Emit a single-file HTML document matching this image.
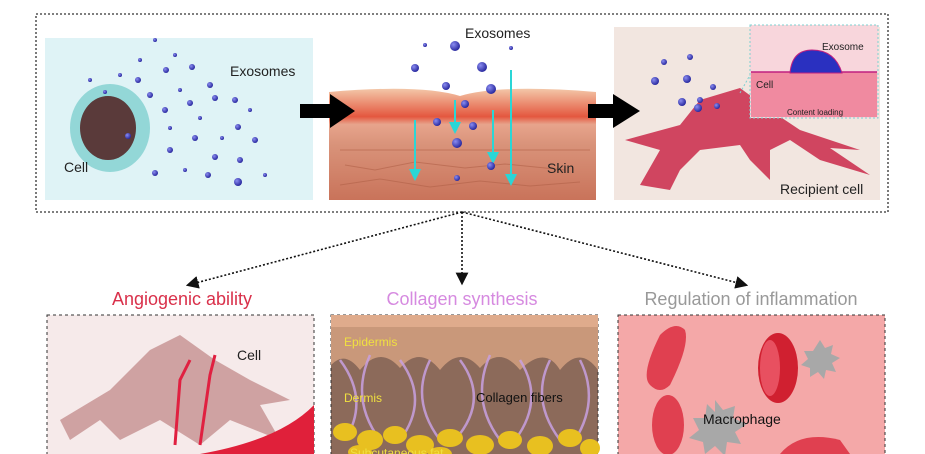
<!DOCTYPE html><html><head><meta charset="utf-8"><style>
html,body{margin:0;padding:0;background:#fff;width:925px;height:454px;overflow:hidden}
text{font-family:"Liberation Sans",sans-serif}
</style></head><body>
<svg width="925" height="454" viewBox="0 0 925 454" xmlns="http://www.w3.org/2000/svg">
<defs>
<radialGradient id="ex" cx="35%" cy="35%" r="65%"><stop offset="0" stop-color="#8a8cf0"/><stop offset="1" stop-color="#2a2aa0"/></radialGradient>
<linearGradient id="skin" x1="0" y1="0" x2="0" y2="1"><stop offset="0" stop-color="#f3c7a8"/><stop offset=".25" stop-color="#e4573f"/><stop offset=".32" stop-color="#e7a48c"/><stop offset=".5" stop-color="#d9937a"/><stop offset="1" stop-color="#c9735a"/></linearGradient>
<marker id="ah" markerWidth="8" markerHeight="8" refX="4" refY="4" orient="auto"><path d="M0,0 L8,4 L0,8 z" fill="#111"/></marker>
<marker id="ca" markerWidth="6" markerHeight="6" refX="3" refY="3" orient="auto"><path d="M0,0 L6,3 L0,6 z" fill="#2ad6d6"/></marker>
</defs>
<rect x="0" y="0" width="925" height="454" fill="#fff"/>
<rect x="36" y="14" width="852" height="198" fill="none" stroke="#333" stroke-width="1.3" stroke-dasharray="2,2"/>
<!-- panel 1 -->
<rect x="45" y="38" width="268" height="162" fill="#dff3f6"/>
<ellipse cx="110" cy="128" rx="40" ry="44" fill="#7fd0d0" opacity=".8"/>
<ellipse cx="108" cy="128" rx="28" ry="32" fill="#5a3a3a"/>
<g fill="url(#ex)">
<circle cx="155" cy="40" r="2"/><circle cx="120" cy="75" r="2"/><circle cx="138" cy="80" r="3"/><circle cx="166" cy="70" r="3"/><circle cx="192" cy="67" r="3"/><circle cx="210" cy="85" r="3"/><circle cx="215" cy="98" r="3"/><circle cx="190" cy="103" r="3"/><circle cx="165" cy="110" r="3"/><circle cx="128" cy="136" r="3"/><circle cx="155" cy="173" r="3"/><circle cx="170" cy="150" r="3"/><circle cx="195" cy="138" r="3"/><circle cx="208" cy="175" r="3"/><circle cx="238" cy="182" r="4"/><circle cx="240" cy="160" r="3"/><circle cx="255" cy="140" r="3"/><circle cx="238" cy="127" r="3"/><circle cx="215" cy="157" r="3"/><circle cx="235" cy="100" r="3"/><circle cx="250" cy="110" r="2"/><circle cx="180" cy="90" r="2"/><circle cx="200" cy="118" r="2"/><circle cx="150" cy="95" r="3"/><circle cx="90" cy="80" r="2"/><circle cx="105" cy="92" r="2"/><circle cx="170" cy="128" r="2"/><circle cx="222" cy="138" r="2"/><circle cx="140" cy="60" r="2"/><circle cx="175" cy="55" r="2"/><circle cx="265" cy="175" r="2"/><circle cx="185" cy="170" r="2"/></g>
<text x="64" y="172" font-size="14" fill="#222">Cell</text>
<text x="230" y="76" font-size="14" fill="#222">Exosomes</text>
<!-- panel 2 -->
<path d="M329,92 Q420,84 460,96 Q500,84 596,92 V200 H329z" fill="url(#skin)"/>
<g stroke="#b06048" stroke-width="1" fill="none" opacity=".6">
<path d="M340,150 h250 M345,165 l30,5 l40,-8 l50,6 l40,-4 l60,6 M340,185 l40,-6 l50,8 l50,-6 l50,5 l50,-4"/></g>
<g stroke="#2ad6d6" stroke-width="2" marker-end="url(#ca)">
<line x1="415" y1="120" x2="415" y2="175"/><line x1="455" y1="100" x2="455" y2="128"/><line x1="493" y1="110" x2="493" y2="158"/><line x1="511" y1="70" x2="511" y2="180"/></g>
<g fill="url(#ex)"><circle cx="425" cy="45" r="2"/><circle cx="455" cy="46" r="5"/><circle cx="511" cy="48" r="2"/><circle cx="415" cy="68" r="4"/><circle cx="482" cy="67" r="5"/><circle cx="446" cy="86" r="4"/><circle cx="491" cy="89" r="5"/><circle cx="465" cy="104" r="4"/><circle cx="437" cy="122" r="4"/><circle cx="473" cy="126" r="4"/><circle cx="457" cy="143" r="5"/><circle cx="491" cy="166" r="4"/><circle cx="457" cy="178" r="3"/></g>
<text x="465" y="38" font-size="14" fill="#222">Exosomes</text>
<text x="547" y="173" font-size="14" fill="#222">Skin</text>
<!-- panel 3 -->
<rect x="614" y="27" width="266" height="173" fill="#f2e6e0"/>
<path d="M640,185 L660,150 L625,140 L680,125 L700,100 L740,88 L770,110 L800,130 L860,150 L830,148 L870,175 L820,160 L790,140 L770,150 L770,180 L750,160 L740,145 L700,150 L680,170 L670,190z" fill="#d04560"/>
<g fill="url(#ex)"><circle cx="664" cy="62" r="3"/><circle cx="690" cy="57" r="3"/><circle cx="655" cy="81" r="4"/><circle cx="687" cy="79" r="4"/><circle cx="713" cy="87" r="3"/><circle cx="682" cy="102" r="4"/><circle cx="700" cy="100" r="3"/><circle cx="717" cy="106" r="3"/><circle cx="698" cy="108" r="4"/></g>
<rect x="750" y="25" width="128" height="93" fill="#f8d6dc" stroke="#7fd0d0" stroke-dasharray="2,2"/>
<rect x="751" y="72" width="126" height="45" fill="#f08aa0"/>
<line x1="751" y1="72" x2="877" y2="72" stroke="#c02080" stroke-width="1.5"/>
<path d="M790,73 Q792,50 812,50 Q835,50 842,73z" fill="#2a30c0" stroke="#c02080"/>
<line x1="740" y1="93" x2="750" y2="75" stroke="#7fd0d0" stroke-dasharray="2,2"/>
<text x="822" y="50" font-size="10" fill="#222">Exosome</text>
<text x="756" y="88" font-size="10" fill="#222">Cell</text>
<text x="787" y="115" font-size="8" fill="#222">Content loading</text>
<text x="780" y="194" font-size="14" fill="#222">Recipient cell</text>
<!-- big arrows -->
<path d="M300,104 h30 v-10 l25,17 -25,17 v-10 h-30z" fill="#000"/>
<path d="M588,104 h25 v-10 l27,17 -27,17 v-10 h-25z" fill="#000"/>
<!-- connectors -->
<g stroke="#111" stroke-width="1.6" stroke-dasharray="2,2" fill="none">
<line x1="462" y1="212" x2="192" y2="284" marker-end="url(#ah)"/>
<line x1="462" y1="212" x2="462" y2="279" marker-end="url(#ah)"/>
<line x1="462" y1="212" x2="742" y2="284" marker-end="url(#ah)"/>
</g>
<text x="182" y="305" font-size="18" fill="#d9304a" text-anchor="middle">Angiogenic ability</text>
<text x="462" y="305" font-size="18" fill="#d68ae0" text-anchor="middle">Collagen synthesis</text>
<text x="751" y="305" font-size="18" fill="#999" text-anchor="middle">Regulation of inflammation</text>
<!-- bottom boxes -->
<rect x="47" y="315" width="267" height="145" fill="#f6eaea" stroke="#333" stroke-dasharray="3,3"/>
<path d="M60,420 L110,390 L150,350 L180,335 L215,360 L250,380 L290,400 L260,405 L280,440 L230,420 L200,445 L160,420 L120,440 L100,420 L70,440z" fill="#c59090" opacity=".8"/>
<g stroke="#e02040" stroke-width="3" fill="none"><path d="M175,445 L180,380 L190,360 M200,445 L210,375 L215,355"/></g>
<path d="M200,454 Q280,440 314,405 V454z" fill="#e0203a"/>
<text x="237" y="360" font-size="14" fill="#222">Cell</text>
<rect x="331" y="315" width="267" height="145" fill="#8c6a5a" stroke="#333" stroke-dasharray="3,3"/>
<path d="M331,318 H598 V370 Q580,345 560,370 Q545,345 520,370 Q500,345 480,368 Q460,345 440,370 Q420,345 400,368 Q380,345 360,370 Q345,350 331,365z" fill="#c9987a"/>
<rect x="331" y="315" width="267" height="12" fill="#dfab8c"/>
<g stroke="#c8a0e0" stroke-width="2.5" fill="none" opacity=".85">
<path d="M340,360 Q370,400 345,440 M370,355 Q350,400 380,440 M400,360 Q430,400 400,440 M430,360 Q410,400 440,440 M460,360 Q490,400 455,440 M490,355 Q470,400 500,440 M520,360 Q545,400 515,440 M550,360 Q530,400 560,440 M580,360 Q600,400 575,440"/></g>
<g fill="#e8c020"><ellipse cx="345" cy="432" rx="12" ry="9"/><ellipse cx="370" cy="440" rx="13" ry="10"/><ellipse cx="395" cy="435" rx="12" ry="9"/><ellipse cx="420" cy="445" rx="14" ry="10"/><ellipse cx="450" cy="438" rx="13" ry="9"/><ellipse cx="480" cy="445" rx="14" ry="10"/><ellipse cx="510" cy="440" rx="12" ry="9"/><ellipse cx="540" cy="446" rx="13" ry="10"/><ellipse cx="570" cy="438" rx="12" ry="9"/><ellipse cx="590" cy="448" rx="10" ry="9"/><ellipse cx="360" cy="452" rx="12" ry="7"/><ellipse cx="440" cy="454" rx="12" ry="7"/></g>
<text x="344" y="346" font-size="12" fill="#f0e040">Epidermis</text>
<text x="344" y="402" font-size="12" fill="#f0e040">Dermis</text>
<text x="476" y="402" font-size="13" fill="#111">Collagen fibers</text>
<text x="350" y="457" font-size="12" fill="#f0e040">Subcutaneous fat</text>
<rect x="618" y="315" width="267" height="145" fill="#f4a8a8" stroke="#333" stroke-dasharray="3,3"/>
<path d="M650,385 Q640,375 660,335 Q675,320 685,330 Q690,345 670,385 Q660,395 650,385z" fill="#e04050"/>
<ellipse cx="778" cy="368" rx="20" ry="35" fill="#d02030"/>
<ellipse cx="770" cy="368" rx="10" ry="28" fill="#e85060"/>
<ellipse cx="668" cy="425" rx="16" ry="30" fill="#e04050"/>
<path d="M820,340 l5,8 8,-3 -2,9 9,4 -8,5 4,9 -10,-2 -2,9 -6,-7 -8,5 0,-9 -9,-3 7,-6 -4,-8 9,0z" fill="#a8a8a8"/>
<path d="M715,400 l8,10 12,-4 -2,12 14,6 -12,8 6,12 -14,-2 -2,14 -10,-10 -10,8 -2,-12 -14,-4 10,-8 -6,-12 12,0 2,-14 8,8z" fill="#a8a8a8"/>
<path d="M780,454 Q800,430 840,440 L850,454z" fill="#e04050"/>
<text x="703" y="424" font-size="14" fill="#111">Macrophage</text>
</svg>
</body></html>
